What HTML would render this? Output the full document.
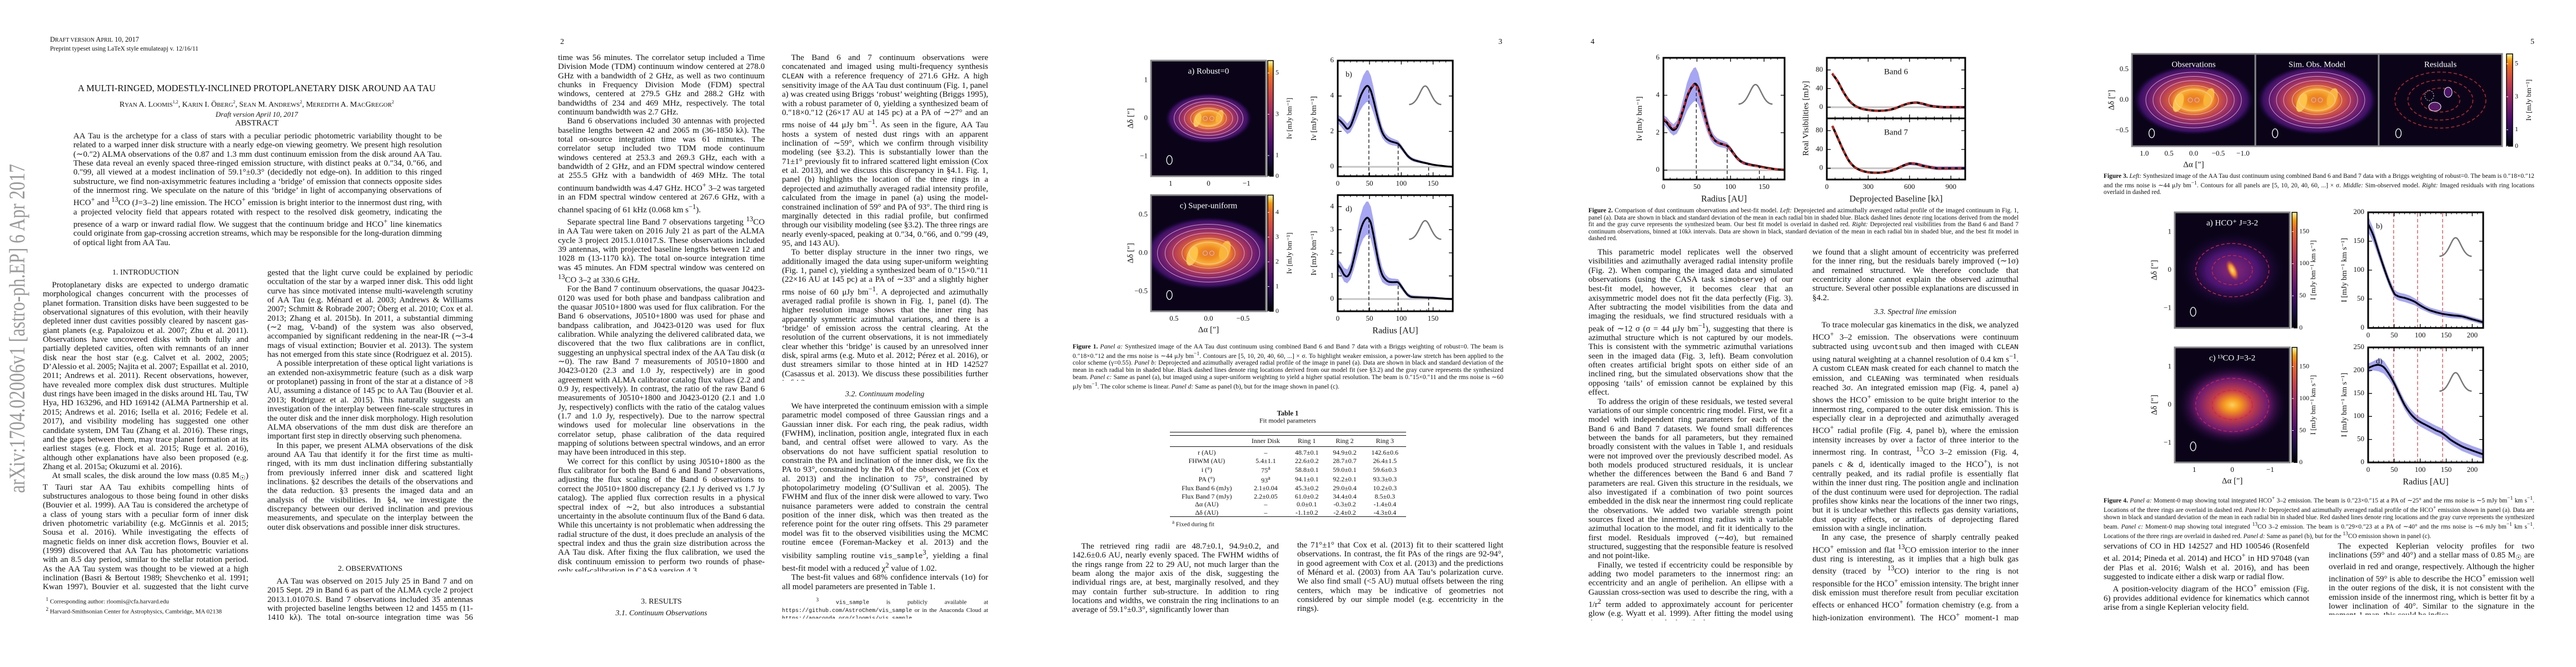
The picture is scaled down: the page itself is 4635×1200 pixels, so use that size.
<!DOCTYPE html>
<html><head><meta charset="utf-8">
<style>
html,body{margin:0;padding:0;background:#fff;}
#page{position:relative;width:4635px;height:1200px;overflow:hidden;background:#fff;font-family:"Liberation Serif",serif;color:#111;}
.col{position:absolute;text-align:justify;font-size:15px;line-height:16.35px;overflow:hidden;hyphens:auto;}
.col p{margin:0;text-indent:1.1em;}
.col p.ni{text-indent:0;}
.hd{position:absolute;font-size:14px;text-align:center;white-space:nowrap;transform:translate(-50%,-50%);}
.cap{position:absolute;text-align:justify;font-size:11.6px;line-height:12.8px;overflow:hidden;}
.fn{position:absolute;font-size:11px;line-height:13.3px;overflow:hidden;}
.pn{position:absolute;font-size:14px;top:68px;}
table.t1{position:absolute;border-collapse:collapse;font-size:12px;line-height:14.5px;}
table.t1 td{padding:0 4px;text-align:center;white-space:nowrap;}
#figs{position:absolute;left:0;top:0;}
</style></head>
<body>
<div id="page">

<!-- PAGE 1 -->
<div style="position:absolute;left:90px;top:64px;font-size:12.5px;line-height:14px;">D<span style="font-size:10px">RAFT VERSION</span> A<span style="font-size:10px">PRIL</span> 10, 2017<br><span style="font-size:11.5px">Preprint typeset using LaTeX style emulateapj v. 12/16/11</span></div>
<div class="hd" style="left:462px;top:159px;font-size:16.5px;">A MULTI-RINGED, MODESTLY-INCLINED PROTOPLANETARY DISK AROUND AA TAU</div>
<div class="hd" style="left:462px;top:188px;font-size:14px;">R<span style="font-size:11px">YAN</span> A. L<span style="font-size:11px">OOMIS</span><sup style="font-size:8px">1,2</sup>, K<span style="font-size:11px">ARIN</span> I. Ö<span style="font-size:11px">BERG</span><sup style="font-size:8px">2</sup>, S<span style="font-size:11px">EAN</span> M. A<span style="font-size:11px">NDREWS</span><sup style="font-size:8px">2</sup>, M<span style="font-size:11px">EREDITH</span> A. M<span style="font-size:11px">AC</span>G<span style="font-size:11px">REGOR</span><sup style="font-size:8px">2</sup></div>
<div class="hd" style="left:462px;top:206px;font-size:13px;font-style:italic;">Draft version April 10, 2017</div>
<div class="hd" style="left:462px;top:222px;font-size:15px;">ABSTRACT</div>
<div class="col" style="left:132px;top:237px;width:663px;height:213px;"><p class="ni">AA Tau is the archetype for a class of stars with a peculiar periodic photometric variability thought to be related to a warped inner disk structure with a nearly edge-on viewing geometry. We present high resolution (∼0.″2) ALMA observations of the 0.87 and 1.3 mm dust continuum emission from the disk around AA Tau. These data reveal an evenly spaced three-ringed emission structure, with distinct peaks at 0.″34, 0.″66, and 0.″99, all viewed at a modest inclination of 59.1°±0.3° (decidedly not edge-on). In addition to this ringed substructure, we find non-axisymmetric features including a ‘bridge’ of emission that connects opposite sides of the innermost ring. We speculate on the nature of this ‘bridge’ in light of accompanying observations of HCO<sup>+</sup> and <sup>13</sup>CO (J=3–2) line emission. The HCO<sup>+</sup> emission is bright interior to the innermost dust ring, with a projected velocity field that appears rotated with respect to the resolved disk geometry, indicating the presence of a warp or inward radial flow. We suggest that the continuum bridge and HCO<sup>+</sup> line kinematics could originate from gap-crossing accretion streams, which may be responsible for the long-duration dimming of optical light from AA Tau.</p></div>

<div class="hd" style="left:262px;top:491px;">1. INTRODUCTION</div>
<div class="col" style="left:77px;top:505px;width:370px;height:556px;"><p>Protoplanetary disks are expected to undergo dramatic morphological changes concurrent with the processes of planet formation. Transition disks have been suggested to be observational signatures of this evolution, with their heavily depleted inner dust cavities possibly cleared by nascent gas-giant planets (e.g. Papaloizou et al. 2007; Zhu et al. 2011). Observations have uncovered disks with both fully and partially depleted cavities, often with remnants of an inner disk near the host star (e.g. Calvet et al. 2002, 2005; D’Alessio et al. 2005; Najita et al. 2007; Espaillat et al. 2010, 2011; Andrews et al. 2011). Recent observations, however, have revealed more complex disk dust structures. Multiple dust rings have been imaged in the disks around HL Tau, TW Hya, HD 163296, and HD 169142 (ALMA Partnership et al. 2015; Andrews et al. 2016; Isella et al. 2016; Fedele et al. 2017), and visibility modeling has suggested one other candidate system, DM Tau (Zhang et al. 2016). These rings, and the gaps between them, may trace planet formation at its earliest stages (e.g. Flock et al. 2015; Ruge et al. 2016), although other explanations have also been proposed (e.g. Zhang et al. 2015a; Okuzumi et al. 2016).</p><p>At small scales, the disk around the low mass (0.85 M<sub>☉</sub>) T Tauri star AA Tau exhibits compelling hints of substructures analogous to those being found in other disks (Bouvier et al. 1999). AA Tau is considered the archetype of a class of young stars with a peculiar form of inner disk driven photometric variability (e.g. McGinnis et al. 2015; Sousa et al. 2016). While investigating the effects of magnetic fields on inner disk accretion flows, Bouvier et al. (1999) discovered that AA Tau has photometric variations with an 8.5 day period, similar to the stellar rotation period. As the AA Tau system was thought to be viewed at a high inclination (Basri &amp; Bertout 1989; Shevchenko et al. 1991; Kwan 1997), Bouvier et al. suggested that the light curve could be explained by periodic occultation.</p></div>
<div class="fn" style="left:77px;top:1072px;width:370px;height:44px;">&nbsp;&nbsp;<sup>1</sup> Corresponding author: rloomis@cfa.harvard.edu<br>&nbsp;&nbsp;<sup>2</sup> Harvard-Smithsonian Center for Astrophysics, Cambridge, MA 02138</div>

<div class="col" style="left:481px;top:483px;width:370px;height:507px;"><p class="ni">gested that the light curve could be explained by periodic occultation of the star by a warped inner disk. This odd light curve has since motivated intense multi-wavelength scrutiny of AA Tau (e.g. Ménard et al. 2003; Andrews &amp; Williams 2007; Schmitt &amp; Robrade 2007; Öberg et al. 2010; Cox et al. 2013; Zhang et al. 2015b). In 2011, a substantial dimming (∼2 mag, V-band) of the system was also observed, accompanied by significant reddening in the near-IR (∼3-4 mags of visual extinction; Bouvier et al. 2013). The system has not emerged from this state since (Rodriguez et al. 2015).</p><p>A possible interpretation of these optical light variations is an extended non-axisymmetric feature (such as a disk warp or protoplanet) passing in front of the star at a distance of &gt;8 AU, assuming a distance of 145 pc to AA Tau (Bouvier et al. 2013; Rodriguez et al. 2015). This naturally suggests an investigation of the interplay between fine-scale structures in the outer disk and the inner disk morphology. High resolution ALMA observations of the mm dust disk are therefore an important first step in directly observing such phenomena.</p><p>In this paper, we present ALMA observations of the disk around AA Tau that identify it for the first time as multi-ringed, with its mm dust inclination differing substantially from previously inferred inner disk and scattered light inclinations. §2 describes the details of the observations and the data reduction. §3 presents the imaged data and an analysis of the visibilities. In §4, we investigate the discrepancy between our derived inclination and previous measurements, and speculate on the interplay between the outer disk observations and possible inner disk structures.</p></div>
<div class="hd" style="left:666px;top:1024px;">2. OBSERVATIONS</div>
<div class="col" style="left:481px;top:1038px;width:370px;height:82px;"><p>AA Tau was observed on 2015 July 25 in Band 7 and on 2015 Sept. 29 in Band 6 as part of the ALMA cycle 2 project 2013.1.01070.S. Band 7 observations included 35 antennas with projected baseline lengths between 12 and 1455 m (11-1410 kλ). The total on-source integration time was 56 minutes.</p></div>

<!-- PAGE 2 -->
<div class="pn" style="left:1008px;">2</div>
<div class="col" style="left:1004px;top:96px;width:372px;height:932px;"><p class="ni">time was 56 minutes. The correlator setup included a Time Division Mode (TDM) continuum window centered at 278.0 GHz with a bandwidth of 2 GHz, as well as two continuum chunks in Frequency Division Mode (FDM) spectral windows, centered at 279.5 GHz and 288.2 GHz with bandwidths of 234 and 469 MHz, respectively. The total continuum bandwidth was 2.7 GHz.</p><p>Band 6 observations included 30 antennas with projected baseline lengths between 42 and 2065 m (36-1850 kλ). The total on-source integration time was 61 minutes. The correlator setup included two TDM mode continuum windows centered at 253.3 and 269.3 GHz, each with a bandwidth of 2 GHz, and an FDM spectral window centered at 255.5 GHz with a bandwidth of 469 MHz. The total continuum bandwidth was 4.47 GHz. HCO<sup>+</sup> 3–2 was targeted in an FDM spectral window centered at 267.6 GHz, with a channel spacing of 61 kHz (0.068 km s<sup>−1</sup>).</p><p>Separate spectral line Band 7 observations targeting <sup>13</sup>CO in AA Tau were taken on 2016 July 21 as part of the ALMA cycle 3 project 2015.1.01017.S. These observations included 39 antennas, with projected baseline lengths between 12 and 1028 m (13-1170 kλ). The total on-source integration time was 45 minutes. An FDM spectral window was centered on <sup>13</sup>CO 3–2 at 330.6 GHz.</p><p>For the Band 7 continuum observations, the quasar J0423-0120 was used for both phase and bandpass calibration and the quasar J0510+1800 was used for flux calibration. For the Band 6 observations, J0510+1800 was used for phase and bandpass calibration, and J0423-0120 was used for flux calibration. While analyzing the delivered calibrated data, we discovered that the two flux calibrations are in conflict, suggesting an unphysical spectral index of the AA Tau disk (α ∼0). The raw Band 7 measurements of J0510+1800 and J0423-0120 (2.3 and 1.0 Jy, respectively) are in good agreement with ALMA calibrator catalog flux values (2.2 and 0.9 Jy, respectively). In contrast, the ratio of the raw Band 6 measurements of J0510+1800 and J0423-0120 (2.1 and 1.0 Jy, respectively) conflicts with the ratio of the catalog values (1.7 and 1.0 Jy, respectively). Due to the narrow spectral windows used for molecular line observations in the correlator setup, phase calibration of the data required mapping of solutions between spectral windows, and an error may have been introduced in this step.</p><p>We correct for this conflict by using J0510+1800 as the flux calibrator for both the Band 6 and Band 7 observations, adjusting the flux scaling of the Band 6 observations to correct the J0510+1800 discrepancy (2.1 Jy derived vs 1.7 Jy catalog). The applied flux correction results in a physical spectral index of ∼2, but also introduces a substantial uncertainty in the absolute continuum flux of the Band 6 data. While this uncertainty is not problematic when addressing the radial structure of the dust, it does preclude an analysis of the spectral index and thus the grain size distribution across the AA Tau disk. After fixing the flux calibration, we used the disk continuum emission to perform two rounds of phase-only self-calibration in CASA version 4.3.</p></div>
<div class="hd" style="left:1190px;top:1083px;">3. RESULTS</div>
<div class="hd" style="left:1190px;top:1104px;font-style:italic;">3.1. Continuum Observations</div>

<div class="col" style="left:1407px;top:96px;width:371px;height:589px;"><p>The Band 6 and 7 continuum observations were concatenated and imaged using multi-frequency synthesis <span style="font-family:'Liberation Mono',monospace;font-size:13px">CLEAN</span> with a reference frequency of 271.6 GHz. A high sensitivity image of the AA Tau dust continuum (Fig. 1, panel a) was created using Briggs ‘robust’ weighting (Briggs 1995), with a robust parameter of 0, yielding a synthesized beam of 0.″18×0.″12 (26×17 AU at 145 pc) at a PA of ∼27° and an rms noise of 44 μJy bm<sup>−1</sup>. As seen in the figure, AA Tau hosts a system of nested dust rings with an apparent inclination of ∼59°, which we confirm through visibility modeling (see §3.2). This is substantially lower than the 71±1° previously fit to infrared scattered light emission (Cox et al. 2013), and we discuss this discrepancy in §4.1. Fig. 1, panel (b) highlights the location of the three rings in a deprojected and azimuthally averaged radial intensity profile, calculated from the image in panel (a) using the model-constrained inclination of 59° and PA of 93°. The third ring is marginally detected in this radial profile, but confirmed through our visibility modeling (see §3.2). The three rings are nearly evenly-spaced, peaking at 0.″34, 0.″66, and 0.″99 (49, 95, and 143 AU).</p><p>To better display structure in the inner two rings, we additionally imaged the data using super-uniform weighting (Fig. 1, panel c), yielding a synthesized beam of 0.″15×0.″11 (22×16 AU at 145 pc) at a PA of ∼33° and a slightly higher rms noise of 60 μJy bm<sup>−1</sup>. A deprojected and azimuthally averaged radial profile is shown in Fig. 1, panel (d). The higher resolution image shows that the inner ring has apparently symmetric azimuthal variations, and there is a ‘bridge’ of emission across the central clearing. At the resolution of the current observations, it is not immediately clear whether this ‘bridge’ is caused by an unresolved inner disk, spiral arms (e.g. Muto et al. 2012; Pérez et al. 2016), or dust streamers similar to those hinted at in HD 142527 (Casassus et al. 2013). We discuss these possibilities further in §4.2.</p></div>
<div class="hd" style="left:1592px;top:710px;font-style:italic;">3.2. Continuum modeling</div>
<div class="col" style="left:1407px;top:723px;width:371px;height:343px;"><p>We have interpreted the continuum emission with a simple parametric model composed of three Gaussian rings and a Gaussian inner disk. For each ring, the peak radius, width (FWHM), inclination, position angle, integrated flux in each band, and central offset were allowed to vary. As the observations do not have sufficient spatial resolution to constrain the PA and inclination of the inner disk, we fix the PA to 93°, constrained by the PA of the observed jet (Cox et al. 2013) and the inclination to 75°, constrained by photopolarimetry modeling (O’Sullivan et al. 2005). The FWHM and flux of the inner disk were allowed to vary. Two nuisance parameters were added to constrain the central position of the inner disk, which was then treated as the reference point for the outer ring offsets. This 29 parameter model was fit to the observed visibilities using the MCMC routine <span style="font-family:'Liberation Mono',monospace;font-size:13px">emcee</span> (Foreman-Mackey et al. 2013) and the visibility sampling routine <span style="font-family:'Liberation Mono',monospace;font-size:13px">vis_sample</span><sup>3</sup>, yielding a final best-fit model with a reduced χ<sup>2</sup> value of 1.02.</p><p>The best-fit values and 68% confidence intervals (1σ) for all model parameters are presented in Table 1.</p></div>
<div class="fn" style="left:1407px;top:1073px;width:371px;height:40px;text-align:justify;">&nbsp;&nbsp;<sup>3</sup> <span style="font-family:'Liberation Mono',monospace;font-size:10px">vis_sample</span> is publicly available at <span style="font-family:'Liberation Mono',monospace;font-size:10px">https://github.com/AstroChem/vis_sample</span> or in the Anaconda Cloud at <span style="font-family:'Liberation Mono',monospace;font-size:10px">https://anaconda.org/rloomis/vis_sample</span></div>

<!-- PAGE 3 -->
<div class="pn" style="left:2696px;">3</div>
<div class="cap" style="left:1930px;top:618px;width:775px;height:92px;"><b>Figure 1.</b> <i>Panel a:</i> Synthesized image of the AA Tau dust continuum using combined Band 6 and Band 7 data with a Briggs weighting of robust=0. The beam is 0.″18×0.″12 and the rms noise is ∼44 μJy bm<sup>−1</sup>. Contours are [5, 10, 20, 40, 60, ...] × σ. To highlight weaker emission, a power-law stretch has been applied to the color scheme (γ=0.55). <i>Panel b:</i> Deprojected and azimuthally averaged radial profile of the image in panel (a). Data are shown in black and standard deviation of the mean in each radial bin in shaded blue. Black dashed lines denote ring locations derived from our model fit (see §3.2) and the gray curve represents the synthesized beam. <i>Panel c:</i> Same as panel (a), but imaged using a super-uniform weighting to yield a higher spatial resolution. The beam is 0.″15×0.″11 and the rms noise is ∼60 μJy bm<sup>−1</sup>. The color scheme is linear. <i>Panel d:</i> Same as panel (b), but for the image shown in panel (c).</div>
<div class="hd" style="left:2317px;top:744px;font-size:12.5px;font-weight:bold;">Table 1</div>
<div class="hd" style="left:2317px;top:757px;font-size:12px;">Fit model parameters</div>
<table class="t1" style="left:2105px;top:777px;width:425px;">
<tr><td colspan="5" style="border-top:1.5px solid #111;border-bottom:1.5px solid #111;height:5px;padding:0"></td></tr>
<tr style="height:20px"><td></td><td>Inner Disk</td><td>Ring 1</td><td>Ring 2</td><td>Ring 3</td></tr>
<tr><td colspan="5" style="border-top:1.5px solid #111;height:3px;padding:0"></td></tr>
<tr><td>r (AU)</td><td>–</td><td>48.7±0.1</td><td>94.9±0.2</td><td>142.6±0.6</td></tr>
<tr><td>FHWM (AU)</td><td>5.4±1.1</td><td>22.6±0.2</td><td>28.7±0.7</td><td>26.4±1.5</td></tr>
<tr><td>i (°)</td><td>75<sup>a</sup></td><td>58.8±0.1</td><td>59.0±0.1</td><td>59.6±0.3</td></tr>
<tr><td>PA (°)</td><td>93<sup>a</sup></td><td>94.1±0.1</td><td>92.2±0.1</td><td>93.3±0.3</td></tr>
<tr><td>Flux Band 6 (mJy)</td><td>2.1±0.04</td><td>45.3±0.2</td><td>29.0±0.4</td><td>10.2±0.3</td></tr>
<tr><td>Flux Band 7 (mJy)</td><td>2.2±0.05</td><td>61.0±0.2</td><td>34.4±0.4</td><td>8.5±0.3</td></tr>
<tr><td>Δα (AU)</td><td>–</td><td>0.0±0.1</td><td>-0.3±0.2</td><td>-1.4±0.4</td></tr>
<tr><td>Δδ (AU)</td><td>–</td><td>-1.1±0.2</td><td>-2.4±0.2</td><td>-4.3±0.4</td></tr>
<tr><td colspan="5" style="border-top:1.5px solid #111;height:2px;padding:0"></td></tr>
<tr><td colspan="5" style="text-align:left;font-size:11px"><sup>a</sup> Fixed during fit</td></tr>
</table>
<div class="col" style="left:1929px;top:975px;width:372px;height:131px;"><p>The retrieved ring radii are 48.7±0.1, 94.9±0.2, and 142.6±0.6 AU, nearly evenly spaced. The FWHM widths of the rings range from 22 to 29 AU, not much larger than the beam along the major axis of the disk, suggesting the individual rings are, at best, marginally resolved, and they may contain further sub-structure. In addition to ring locations and widths, we constrain the ring inclinations to an average of 59.1°±0.3°, significantly lower than</p></div>
<div class="col" style="left:2334px;top:973px;width:371px;height:131px;"><p class="ni">the 71°±1° that Cox et al. (2013) fit to their scattered light observations. In contrast, the fit PAs of the rings are 92-94°, in good agreement with Cox et al. (2013) and the predictions of Ménard et al. (2003) from AA Tau’s polarization curve. We also find small (&lt;5 AU) mutual offsets between the ring centers, which may be indicative of geometries not considered by our simple model (e.g. eccentricity in the rings).</p></div>

<!-- PAGE 4 -->
<div class="pn" style="left:2862px;">4</div>
<div class="cap" style="left:2858px;top:373px;width:774px;height:66px;font-size:11.4px;line-height:12.6px;"><b>Figure 2.</b> Comparison of dust continuum observations and best-fit model. <i>Left:</i> Deprojected and azimuthally averaged radial profile of the imaged continuum in Fig. 1, panel (a). Data are shown in black and standard deviation of the mean in each radial bin in shaded blue. Black dashed lines denote ring locations derived from the model fit and the gray curve represents the synthesized beam. Our best fit model is overlaid in dashed red. <i>Right:</i> Deprojected real visibilities from the Band 6 and Band 7 continuum observations, binned at 10kλ intervals. Data are shown in black, standard deviation of the mean in each radial bin in shaded blue, and the best fit model in dashed red.</div>
<div class="col" style="left:2858px;top:446px;width:368px;height:670px;"><p>This parametric model replicates well the observed visibilities and azimuthally averaged radial intensity profile (Fig. 2). When comparing the imaged data and simulated observations (using the CASA task <span style="font-family:'Liberation Mono',monospace;font-size:13px">simobserve</span>) of our best-fit model, however, it becomes clear that an axisymmetric model does not fit the data perfectly (Fig. 3). After subtracting the model visibilities from the data and imaging the residuals, we find structured residuals with a peak of ∼12 σ (σ = 44 μJy bm<sup>−1</sup>), suggesting that there is azimuthal structure which is not captured by our models. This is consistent with the symmetric azimuthal variations seen in the imaged data (Fig. 3, left). Beam convolution often creates artificial bright spots on either side of an inclined ring, but the simulated observations show that the opposing ‘tails’ of emission cannot be explained by this effect.</p><p>To address the origin of these residuals, we tested several variations of our simple concentric ring model. First, we fit a model with independent ring parameters for each of the Band 6 and Band 7 datasets. We found small differences between the bands for all parameters, but they remained broadly consistent with the values in Table 1, and residuals were not improved over the previously described model. As both models produced structured residuals, it is unclear whether the differences between the Band 6 and Band 7 parameters are real. Given this structure in the residuals, we also investigated if a combination of two point sources embedded in the disk near the innermost ring could replicate the observations. We added two variable strength point sources fixed at the innermost ring radius with a variable azimuthal location to the model, and fit it identically to the first model. Residuals improved (∼4σ), but remained structured, suggesting that the responsible feature is resolved and not point-like.</p><p>Finally, we tested if eccentricity could be responsible by adding two model parameters to the innermost ring: an eccentricity and an angle of perihelion. An ellipse with a Gaussian cross-section was used to describe the ring, with a 1/r<sup>2</sup> term added to approximately account for pericenter glow (e.g. Wyatt et al. 1999). After fitting the model using the procedure previously described,</p></div>
<div class="col" style="left:3261px;top:446px;width:371px;height:98px;"><p class="ni">we found that a slight amount of eccentricity was preferred for the inner ring, but the residuals barely improved (∼1σ) and remained structured. We therefore conclude that eccentricity alone cannot explain the observed azimuthal structure. Several other possible explanations are discussed in §4.2.</p></div>
<div class="hd" style="left:3446px;top:562px;font-style:italic;">3.3. Spectral line emission</div>
<div class="col" style="left:3261px;top:577px;width:371px;height:540px;"><p>To trace molecular gas kinematics in the disk, we analyzed HCO<sup>+</sup> 3–2 emission. The observations were continuum subtracted using <span style="font-family:'Liberation Mono',monospace;font-size:13px">uvcontsub</span> and then imaged with <span style="font-family:'Liberation Mono',monospace;font-size:13px">CLEAN</span> using natural weighting at a channel resolution of 0.4 km s<sup>−1</sup>. A custom <span style="font-family:'Liberation Mono',monospace;font-size:13px">CLEAN</span> mask created for each channel to match the emission, and <span style="font-family:'Liberation Mono',monospace;font-size:13px">CLEAN</span>ing was terminated when residuals reached 3σ. An integrated emission map (Fig. 4, panel a) shows the HCO<sup>+</sup> emission to be quite bright interior to the innermost ring, compared to the outer disk emission. This is especially clear in a deprojected and azimuthally averaged HCO<sup>+</sup> radial profile (Fig. 4, panel b), where the emission intensity increases by over a factor of three interior to the innermost ring. In contrast, <sup>13</sup>CO 3–2 emission (Fig. 4, panels c &amp; d, identically imaged to the HCO<sup>+</sup>), is not centrally peaked, and its radial profile is essentially flat within the inner dust ring. The position angle and inclination of the dust continuum were used for deprojection. The radial profiles show kinks near the locations of the inner two rings, but it is unclear whether this reflects gas density variations, dust opacity effects, or artifacts of deprojecting flared emission with a single inclination.</p><p>In any case, the presence of sharply centrally peaked HCO<sup>+</sup> emission and flat <sup>13</sup>CO emission interior to the inner dust ring is interesting, as it implies that a high bulk gas density (traced by <sup>13</sup>CO) interior to the ring is not responsible for the HCO<sup>+</sup> emission intensity. The bright inner disk emission must therefore result from peculiar excitation effects or enhanced HCO<sup>+</sup> formation chemistry (e.g. from a high-ionization environment). The HCO<sup>+</sup> moment-1 map (Fig. 5) is similarly intriguing, showing a twist interior to the inner dust ring, with the emission misaligned by ∼10° with respect to the continuum orientation. This feature is similar to previous ob-</p></div>

<!-- PAGE 5 -->
<div class="pn" style="left:4553px;">5</div>
<div class="cap" style="left:3785px;top:311px;width:775px;height:40px;font-size:11.4px;line-height:12.8px;"><b>Figure 3.</b> <i>Left:</i> Synthesized image of the AA Tau dust continuum using combined Band 6 and Band 7 data with a Briggs weighting of robust=0. The beam is 0.″18×0.″12 and the rms noise is ∼44 μJy bm<sup>−1</sup>. Contours for all panels are [5, 10, 20, 40, 60, ...] × σ. <i>Middle:</i> Sim-observed model. <i>Right:</i> Imaged residuals with ring locations overlaid in dashed red.</div>
<div class="cap" style="left:3785px;top:891px;width:775px;height:80px;font-size:11.4px;line-height:13.2px;"><b>Figure 4.</b> <i>Panel a:</i> Moment-0 map showing total integrated HCO<sup>+</sup> 3–2 emission. The beam is 0.″23×0.″15 at a PA of ∼25° and the rms noise is ∼5 mJy bm<sup>−1</sup> km s<sup>−1</sup>. Locations of the three rings are overlaid in dashed red. <i>Panel b:</i> Deprojected and azimuthally averaged radial profile of the HCO<sup>+</sup> emission shown in panel (a). Data are shown in black and standard deviation of the mean in each radial bin in shaded blue. Red dashed lines denote ring locations and the gray curve represents the synthesized beam. <i>Panel c:</i> Moment-0 map showing total integrated <sup>13</sup>CO 3–2 emission. The beam is 0.″29×0.″23 at a PA of ∼40° and the rms noise is ∼6 mJy bm<sup>−1</sup> km s<sup>−1</sup>. Locations of the three rings are overlaid in dashed red. <i>Panel d:</i> Same as panel (b), but for the <sup>13</sup>CO emission shown in panel (c).</div>
<div class="col" style="left:3785px;top:975px;width:370px;height:131px;"><p class="ni">servations of CO in HD 142527 and HD 100546 (Rosenfeld et al. 2014; Pineda et al. 2014) and HCO<sup>+</sup> in HD 97048 (van der Plas et al. 2016; Walsh et al. 2016), and has been suggested to indicate either a disk warp or radial flow.</p><p>A position-velocity diagram of the HCO<sup>+</sup> emission (Fig. 6) provides additional evidence for kinematics which cannot arise from a single Keplerian velocity field.</p></div>
<div class="col" style="left:4190px;top:975px;width:370px;height:131px;"><p>The expected Keplerian velocity profiles for two inclinations (59° and 40°) and a stellar mass of 0.85 M<sub>☉</sub> are overlaid in red and orange, respectively. Although the higher inclination of 59° is able to describe the HCO<sup>+</sup> emission well in the outer regions of the disk, it is not consistent with the emission inside of the innermost ring, which is better fit by a lower inclination of 40°. Similar to the signature in the moment-1 map, this could be indica-</p></div>

<svg id="figs" width="4635" height="1200" xmlns="http://www.w3.org/2000/svg" font-family="Liberation Serif, serif">
<defs id="defs">
<linearGradient id="inferno" x1="0" y1="1" x2="0" y2="0">
<stop offset="0" stop-color="#000004"/><stop offset="0.14" stop-color="#1b0c41"/><stop offset="0.29" stop-color="#4a0c6b"/><stop offset="0.43" stop-color="#781c6d"/><stop offset="0.57" stop-color="#a52c60"/><stop offset="0.71" stop-color="#cf4446"/><stop offset="0.86" stop-color="#ed6925"/><stop offset="0.93" stop-color="#fb9b06"/><stop offset="1" stop-color="#fcffa4"/>
</linearGradient>
<radialGradient id="diskGrad"><stop offset="0" stop-color="#f3862a"/><stop offset="0.35" stop-color="#e36a2c"/><stop offset="0.55" stop-color="#b23a5a"/><stop offset="0.75" stop-color="#6a1c70"/><stop offset="0.9" stop-color="#3a1063"/><stop offset="1" stop-color="#1a0838" stop-opacity="0"/></radialGradient>
<radialGradient id="ringGrad"><stop offset="0" stop-color="#e8742c"/><stop offset="0.35" stop-color="#f08a20"/><stop offset="0.7" stop-color="#f9b43a"/><stop offset="1" stop-color="#f07a25" stop-opacity="0"/></radialGradient>
<radialGradient id="glowPurple"><stop offset="0" stop-color="#8a2a78"/><stop offset="0.5" stop-color="#4a1470"/><stop offset="1" stop-color="#14062e" stop-opacity="0"/></radialGradient>
<radialGradient id="glowCO"><stop offset="0" stop-color="#fcd05a"/><stop offset="0.15" stop-color="#f59a1e"/><stop offset="0.35" stop-color="#c8404a"/><stop offset="0.65" stop-color="#6a1a70"/><stop offset="1" stop-color="#14062e" stop-opacity="0"/></radialGradient>
<radialGradient id="hcoCore"><stop offset="0" stop-color="#fce27a"/><stop offset="0.5" stop-color="#f39022"/><stop offset="1" stop-color="#c8404a" stop-opacity="0"/></radialGradient>
</defs>
<text transform="translate(44,887) rotate(-90)" font-size="40" fill="#9a9a9a" textLength="592" lengthAdjust="spacingAndGlyphs">arXiv:1704.02006v1  [astro-ph.EP]  6 Apr 2017</text>
</svg>
</div>

<script>
// ---------- DATA ----------
const ringRadii = [49, 95, 143];

const fig1bRadius = [0, 5, 10, 15, 20, 25, 30, 35, 40, 45, 48, 52, 56, 60, 65, 70, 75, 80, 85, 90, 95, 100, 105, 110, 115, 120, 130, 140, 150, 160, 170, 180];
const fig1bIntensity = [2.7, 2.55, 2.35, 2.15, 2.3, 2.75, 3.3, 3.9, 4.3, 4.55, 4.55, 4.3, 3.8, 3.2, 2.5, 1.95, 1.65, 1.5, 1.42, 1.37, 1.3, 1.1, 0.85, 0.62, 0.47, 0.38, 0.28, 0.2, 0.12, 0.07, 0.03, 0.0];
const fig1bError = [0.25, 0.28, 0.3, 0.3, 0.35, 0.45, 0.6, 0.75, 0.85, 0.9, 0.9, 0.85, 0.75, 0.6, 0.45, 0.32, 0.25, 0.22, 0.2, 0.18, 0.17, 0.15, 0.13, 0.12, 0.1, 0.1, 0.08, 0.07, 0.06, 0.05, 0.05, 0.05];
const fig1bYTicks = [0, 2, 4, 6];

const fig1dRadius = [0, 5, 10, 15, 20, 25, 30, 35, 40, 45, 48, 52, 56, 60, 65, 70, 75, 80, 85, 90, 95, 100, 105, 110, 115, 120, 130, 140, 150, 160, 170, 180];
const fig1dIntensity = [1.5, 1.3, 1.05, 0.98, 1.2, 1.7, 2.3, 2.9, 3.3, 3.5, 3.5, 3.3, 2.8, 2.2, 1.5, 1.05, 0.85, 0.75, 0.73, 0.73, 0.72, 0.55, 0.35, 0.18, 0.1, 0.08, 0.07, 0.06, 0.05, 0.03, 0.01, 0.0];
const fig1dError = [0.25, 0.28, 0.3, 0.3, 0.35, 0.45, 0.55, 0.65, 0.7, 0.72, 0.72, 0.7, 0.65, 0.55, 0.45, 0.32, 0.22, 0.18, 0.16, 0.15, 0.14, 0.12, 0.1, 0.09, 0.08, 0.08, 0.07, 0.06, 0.06, 0.05, 0.05, 0.05];
const fig1dYTicks = [0, 1, 2, 3, 4];
const radiusTicks = [0, 50, 100, 150];

const fig2Radius = [0, 5, 10, 15, 20, 25, 30, 35, 40, 45, 48, 52, 56, 60, 65, 70, 75, 80, 85, 90, 95, 100, 105, 110, 115, 120, 130, 140, 150, 160, 170, 180];
const fig2Intensity = [2.7, 2.55, 2.3, 2.15, 2.3, 2.75, 3.3, 3.9, 4.3, 4.55, 4.6, 4.35, 3.85, 3.2, 2.5, 1.95, 1.65, 1.5, 1.42, 1.37, 1.3, 1.12, 0.87, 0.64, 0.48, 0.38, 0.28, 0.22, 0.15, 0.09, 0.04, 0.02];
const fig2Error = [0.25, 0.28, 0.3, 0.3, 0.35, 0.45, 0.6, 0.75, 0.85, 0.9, 0.9, 0.85, 0.75, 0.6, 0.45, 0.32, 0.25, 0.22, 0.2, 0.18, 0.17, 0.15, 0.13, 0.12, 0.1, 0.1, 0.08, 0.07, 0.06, 0.05, 0.05, 0.05];
const fig2Model = [2.75, 2.6, 2.4, 2.25, 2.35, 2.8, 3.35, 3.95, 4.35, 4.55, 4.55, 4.3, 3.8, 3.15, 2.45, 1.9, 1.62, 1.5, 1.43, 1.38, 1.3, 1.1, 0.86, 0.63, 0.47, 0.37, 0.27, 0.2, 0.13, 0.08, 0.04, 0.01];

const visBaseline = [40, 80, 120, 160, 200, 250, 300, 350, 400, 450, 500, 550, 600, 650, 700, 750, 800, 850, 900, 950, 1000];
const visBand6Real = [72, 55, 33, 15, 4, -3, -6, -7.5, -7.5, -6, -2, 4, 8.5, 10, 7, 3, 1, 0, 0, 0, 0];
const visBand6Err = [2, 2, 2, 2, 2, 2, 2, 2, 2, 2, 2, 2, 2.5, 2.5, 3, 3, 3, 3, 3, 3, 3];
const visBand6Model = [73, 55, 33, 15, 4, -3, -6, -7.5, -7.5, -6, -2, 4, 8.5, 10, 7, 3, 1, 0, 0, 0, 0];
const visBand7Real = [90, 64, 38, 16, 3, -5, -8.5, -9.5, -9, -6.5, -2, 5, 10, 9, 5, 2, 0, 0, 0, 0, 0];
const visBand7Err = [2, 2, 2, 2, 2, 2, 2, 2, 2, 2.5, 2.5, 3, 3.5, 3.5, 4, 4, 4, 4, 4, 4, 4];
const visBand7Model = [90, 64, 38, 16, 3, -5, -8.5, -9.5, -9, -6.5, -2, 5, 10, 9, 5, 2, 0, 0, 0, 0, 0];
const visYTicks = [0, 40, 80];
const visXTicks = [0, 300, 600, 900];

const hcoRadius = [0, 10, 20, 30, 40, 50, 55, 60, 70, 80, 90, 100, 110, 120, 140, 160, 180, 200, 220];
const hcoIntensity = [180, 160, 132, 105, 80, 60, 56, 54, 52, 49, 45, 39, 34, 30, 25, 22, 20, 15, 10];
const hcoError = [14, 12, 10, 9, 8, 7, 7, 7, 7, 7, 6, 6, 5, 5, 5, 5, 4, 4, 4];
const hcoYTicks = [0, 50, 100, 150, 200];

const coRadius = [0, 10, 20, 30, 40, 50, 60, 70, 80, 90, 100, 110, 120, 130, 140, 150, 160, 180, 200, 220];
const coIntensity = [205, 210, 212, 207, 192, 172, 148, 125, 108, 96, 88, 82, 76, 70, 65, 57, 48, 35, 26, 18];
const coError = [10, 10, 14, 14, 12, 10, 10, 10, 10, 10, 10, 10, 10, 10, 10, 10, 10, 10, 10, 10];
const coYTicks = [0, 50, 100, 150, 200, 250];
const wideRadiusTicks = [0, 50, 100, 150, 200];

const fig1aAxisTicks = [1, 0, -1];
const fig1cAxisTicks = [0.5, 0.0, -0.5];
const fig1aColorTicks = [0, 1, 3, 5];
const fig1cColorTicks = [0, 1, 2, 3, 4];
const fig3AxisTicks = [0.5, 0.0, -0.5];
const fig3XTicks = [1.0, 0.5, 0.0, -0.5, -1.0];
const fig3ColorTicks = [0, 1, 3, 5];
const hcoColorTicks = [0, 50, 100, 150];

// ---------- HELPERS ----------
const NS = 'http://www.w3.org/2000/svg';
const svg = document.getElementById('figs');
const defs = document.getElementById('defs');
function mk(tag, attrs, parent) {
  const e = document.createElementNS(NS, tag);
  for (const k in attrs) e.setAttribute(k, attrs[k]);
  parent.appendChild(e);
  return e;
}
function label(parent, x, y, s, size, anchor, rot, name) {
  const t = mk('text', {x: x, y: y, 'font-size': size, 'text-anchor': anchor || 'middle', 'dominant-baseline': 'middle', fill: '#111'}, parent);
  if (rot) t.setAttribute('transform', `rotate(${rot} ${x} ${y})`);
  t.textContent = s;
  
  
  return t;
}
function smoothPath(pts) {
  let d = `M${pts[0][0]},${pts[0][1]}`;
  for (let i = 0; i < pts.length - 1; i++) {
    const p0 = pts[Math.max(0, i - 1)], p1 = pts[i], p2 = pts[i + 1], p3 = pts[Math.min(pts.length - 1, i + 2)];
    const c1x = p1[0] + (p2[0] - p0[0]) / 6, c1y = p1[1] + (p2[1] - p0[1]) / 6;
    const c2x = p2[0] - (p3[0] - p1[0]) / 6, c2y = p2[1] - (p3[1] - p1[1]) / 6;
    d += ` C${c1x},${c1y} ${c2x},${c2y} ${p2[0]},${p2[1]}`;
  }
  return d;
}
function interp(xs, ys, v) {
  for (let i = 0; i < xs.length - 1; i++) if (v >= xs[i] && v <= xs[i + 1]) return ys[i] + (ys[i + 1] - ys[i]) * (v - xs[i]) / (xs[i + 1] - xs[i]);
  return ys[ys.length - 1];
}

function linePlot(p) {
  const g = mk('g', {}, svg);
  
  
  const sx = v => p.x + (v - p.xmin) / (p.xmax - p.xmin) * p.w;
  const sy = v => p.y + p.h - (v - p.ymin) / (p.ymax - p.ymin) * p.h;
  const cp = mk('clipPath', {id: 'clip-' + p.name}, defs);
  mk('rect', {x: p.x, y: p.y, width: p.w, height: p.h}, cp);
  const inner = mk('g', {'clip-path': `url(#clip-${p.name})`}, g);
  if (p.err) {
    const pts = [];
    p.xs.forEach((v, i) => pts.push(sx(v) + ',' + sy(p.ys[i] + p.err[i])));
    for (let i = p.xs.length - 1; i >= 0; i--) pts.push(sx(p.xs[i]) + ',' + sy(p.ys[i] - p.err[i]));
    const band = mk('polygon', {points: pts.join(' '), fill: '#a6a6f5'}, inner);
    
    
  }
  const zl = mk('line', {x1: p.x, x2: p.x + p.w, y1: sy(0), y2: sy(0), stroke: '#c4c4c4', 'stroke-width': 3}, inner);
  
  
  (p.rings || []).forEach(r => {
    const top = p.ringColor ? p.y : sy(interp(p.xs, p.ys, r));
    const vl = mk('line', {x1: sx(r), x2: sx(r), y1: p.y + p.h, y2: top, stroke: p.ringColor || '#222', 'stroke-width': 1.4, 'stroke-dasharray': '6 4'}, inner);
    
    
  });
  const dpts = p.xs.map((v, i) => [sx(v), sy(p.ys[i])]);
  const dl = mk('path', {d: smoothPath(dpts), fill: 'none', stroke: '#000', 'stroke-width': p.model ? 4 : 3.2, 'stroke-linejoin': 'round'}, inner);
  
  
  if (p.model) {
    const mpts = p.xs.map((v, i) => [sx(v), sy(p.model[i])]);
    const ml = mk('path', {d: smoothPath(mpts), fill: 'none', stroke: '#e2231a', 'stroke-width': 3, 'stroke-dasharray': '7 5'}, inner);
    
    
  }
  if (p.beam) {
    const bx = p.x + p.w * 0.62, by = p.y + p.h * 0.38, bw = p.w * 0.28, bh = p.h * 0.16;
    const bp = mk('path', {d: `M${bx},${by} C${bx + bw * 0.28},${by} ${bx + bw * 0.36},${by - bh} ${bx + bw * 0.5},${by - bh} C${bx + bw * 0.64},${by - bh} ${bx + bw * 0.72},${by} ${bx + bw},${by}`, fill: 'none', stroke: '#777', 'stroke-width': 2.5}, g);
    
    
  }
  const box = mk('rect', {x: p.x, y: p.y, width: p.w, height: p.h, fill: 'none', stroke: '#000', 'stroke-width': p.thinTop ? 2.5 : 3}, g);
  
  
  p.xticks.forEach((v, i) => {
    const tk = mk('path', {d: `M${sx(v)},${p.y + p.h} v-7 M${sx(v)},${p.y} v7`, stroke: '#000', 'stroke-width': 1.3}, g);
    
    
    const step = p.xticks.length > 1 ? (p.xticks[1] - p.xticks[0]) / 5 : 10;
    for (let k = 1; k < 5; k++) {
      const mv = v + k * step;
      if (mv < p.xmax) {
        const mt = mk('path', {d: `M${sx(mv)},${p.y + p.h} v-3.5 M${sx(mv)},${p.y} v3.5`, stroke: '#000', 'stroke-width': 1}, g);
        
        
      }
    }
    if (p.xlabels !== false) label(g, sx(v), p.y + p.h + 14, String(v), 13, 'middle', 0, 'x-tick-label');
  });
  p.yticks.forEach(v => {
    const tk = mk('path', {d: `M${p.x},${sy(v)} h7 M${p.x + p.w},${sy(v)} h-7`, stroke: '#000', 'stroke-width': 1.3}, g);
    
    
    label(g, p.x - 7, sy(v), String(v), 13, 'end', 0, 'y-tick-label');
  });
  if (p.xtitle) label(g, p.x + p.w / 2, p.y + p.h + 36, p.xtitle, 16, 'middle', 0, 'x-axis-title');
  if (p.ytitle) label(g, p.x - 42, p.y + p.h / 2, p.ytitle, 14, 'middle', -90, 'y-axis-title');
  if (p.panel) label(g, p.x + 20, p.y + 26, p.panel, 14, 'middle', 0, 'panel-label');
  if (p.inlabel) label(g, p.x + p.w * 0.5, p.y + 26, p.inlabel, 15, 'middle', 0, 'band-label');
}

function colorbar(x, y, w, h, ticks, vmax, title, name) {
  const g = mk('g', {}, svg);
  
  
  mk('rect', {x: x, y: y, width: w, height: h, fill: 'url(#inferno)', stroke: '#000', 'stroke-width': 1.5}, g);
  ticks.forEach(v => {
    const ty = y + h - v / vmax * h;
    mk('line', {x1: x, x2: x + 3, y1: ty, y2: ty, stroke: '#fff', 'stroke-width': 1}, g);
    label(g, x + w + 4, ty, String(v), 12, 'start', 0, 'colorbar-tick-label');
  });
  if (title) label(g, x + w + 30, y + h / 2, title, 13, 'middle', -90, 'colorbar-title');
}

function diskImage(c) {
  const g = mk('g', {}, svg);
  
  
  mk('clipPath', {id: 'ic-' + c.name}, defs).appendChild(Object.assign(document.createElementNS(NS, 'rect'), {}));
  const cpr = defs.lastChild.firstChild;
  cpr.setAttribute('x', c.x); cpr.setAttribute('y', c.y); cpr.setAttribute('width', c.w); cpr.setAttribute('height', c.h);
  const ig = mk('g', {'clip-path': `url(#ic-${c.name})`}, g);
  mk('rect', {x: c.x, y: c.y, width: c.w, height: c.h, fill: '#0b0419'}, ig);
  const cx = c.x + c.w / 2, cy = c.y + c.h / 2;
  if (c.kind === 'disk') {
    mk('ellipse', {cx: cx, cy: cy, rx: c.rx * 1.25, ry: c.ry * 1.25, fill: 'url(#diskGrad)'}, ig);
    mk('ellipse', {cx: cx, cy: cy, rx: c.rx * 0.5, ry: c.ry * 0.55, fill: 'url(#ringGrad)'}, ig);
    mk('ellipse', {cx: cx - c.rx * 0.3, cy: cy + c.ry * 0.1, rx: c.rx * 0.1, ry: c.ry * 0.35, fill: '#fcc44a', transform: `rotate(20 ${cx - c.rx * 0.3} ${cy})`}, ig);
    mk('ellipse', {cx: cx + c.rx * 0.3, cy: cy - c.ry * 0.1, rx: c.rx * 0.1, ry: c.ry * 0.35, fill: '#f9b43a', transform: `rotate(20 ${cx + c.rx * 0.3} ${cy})`}, ig);
    if (c.contours) [1.0, 0.85, 0.7, 0.52, 0.38].forEach(s => mk('ellipse', {cx: cx, cy: cy, rx: c.rx * s, ry: c.ry * s, fill: 'none', stroke: '#e8d8f0', 'stroke-opacity': 0.7, 'stroke-width': 1}, ig));
    mk('circle', {cx: cx - 6, cy: cy, r: 4, fill: 'none', stroke: '#c8c0e8', 'stroke-width': 1}, ig);
    mk('circle', {cx: cx + 6, cy: cy, r: 4, fill: 'none', stroke: '#c8c0e8', 'stroke-width': 1}, ig);
  } else if (c.kind === 'resid') {
    [0.45, 0.75, 1.05].forEach(s => mk('ellipse', {cx: cx, cy: cy, rx: c.rx * s, ry: c.ry * s, fill: 'none', stroke: '#d02828', 'stroke-width': 1.4, 'stroke-dasharray': '6 4'}, ig));
    mk('ellipse', {cx: cx - 10, cy: cy + 12, rx: 11, ry: 8, fill: '#5a1a6a', stroke: '#fff', 'stroke-width': 1}, ig);
    mk('ellipse', {cx: cx + 14, cy: cy - 14, rx: 7, ry: 9, fill: '#4a1468', stroke: '#fff', 'stroke-width': 1}, ig);
    mk('ellipse', {cx: cx - 20, cy: cy - 8, rx: 8, ry: 9, fill: 'none', stroke: '#ddd', 'stroke-width': 1, 'stroke-dasharray': '2 2'}, ig);
  } else if (c.kind === 'hco') {
    mk('ellipse', {cx: cx, cy: cy, rx: c.rx * 1.4, ry: c.ry * 1.4, fill: 'url(#glowPurple)'}, ig);
    mk('ellipse', {cx: cx, cy: cy, rx: 9, ry: 20, fill: 'url(#hcoCore)', transform: `rotate(-25 ${cx} ${cy})`}, ig);
    [0.55, 1.0].forEach(s => mk('ellipse', {cx: cx, cy: cy, rx: c.rx * s, ry: c.ry * s, fill: 'none', stroke: '#c8283a', 'stroke-width': 1.4, 'stroke-dasharray': '6 4'}, ig));
  } else if (c.kind === 'co') {
    mk('ellipse', {cx: cx, cy: cy, rx: c.rx * 1.5, ry: c.ry * 1.5, fill: 'url(#glowCO)'}, ig);
    [0.55, 1.0].forEach(s => mk('ellipse', {cx: cx, cy: cy, rx: c.rx * s, ry: c.ry * s, fill: 'none', stroke: '#c8283a', 'stroke-width': 1.4, 'stroke-dasharray': '6 4'}, ig));
  }
  const beam = mk('ellipse', {cx: c.x + c.w * 0.16, cy: c.y + c.h * 0.86, rx: 5, ry: 8, fill: 'none', stroke: '#fff', 'stroke-width': 1.3}, ig);
  
  
  mk('rect', {x: c.x, y: c.y, width: c.w, height: c.h, fill: 'none', stroke: '#888', 'stroke-width': 3}, g);
  if (c.title) label(g, c.x + c.w * 0.5, c.y + 20, c.title, 15, 'middle', 0, 'image-title').setAttribute('fill', '#fff');
  if (c.yticks) c.yticks.forEach((v, i) => label(g, c.x - 6, c.y + c.h * (0.17 + 0.33 * i), String(v.toFixed ? (c.fixed ? v.toFixed(1) : v) : v).replace('-', '−'), 13, 'end', 0, 'y-tick-label'));
  if (c.xticks) c.xticks.forEach((v, i) => label(g, c.x + c.w * (c.xstart + c.xstep * i), c.y + c.h + 14, String(c.fixed ? v.toFixed(1) : v).replace('-', '−'), 13, 'middle', 0, 'x-tick-label'));
  if (c.ytitle) label(g, c.x - 36, c.y + c.h / 2, c.ytitle, 15, 'middle', -90, 'y-axis-title');
  if (c.xtitle) label(g, c.x + c.w / 2, c.y + c.h + 34, c.xtitle, 15, 'middle', 0, 'x-axis-title');
}

// ---------- FIGURE 1 ----------
diskImage({name: 'fig1a-robust0-image', kind: 'disk', contours: true, x: 2071, y: 109, w: 207, h: 208, rx: 62, ry: 36, title: 'a)      Robust=0', yticks: fig1aAxisTicks, xticks: fig1aAxisTicks, xstart: 0.17, xstep: 0.33, ytitle: 'Δδ [″]'});
colorbar(2281, 109, 10, 208, fig1aColorTicks, 5.6, 'Iν [mJy bm⁻¹]', 'fig1a-colorbar');
diskImage({name: 'fig1c-superuniform-image', kind: 'disk', contours: true, x: 2071, y: 351, w: 207, h: 209, rx: 92, ry: 52, title: 'c)   Super-uniform', yticks: fig1cAxisTicks, xticks: fig1cAxisTicks, xstart: 0.2, xstep: 0.3, fixed: true, ytitle: 'Δδ [″]', xtitle: 'Δα [″]'});
colorbar(2281, 351, 10, 209, fig1cColorTicks, 4.7, 'Iν [mJy bm⁻¹]', 'fig1c-colorbar');
linePlot({name: 'fig1b-radial-profile', x: 2407, y: 109, w: 207, h: 208, xmin: 0, xmax: 181, ymin: -0.53, ymax: 6, xs: fig1bRadius, ys: fig1bIntensity, err: fig1bError, rings: ringRadii, beam: true, xticks: radiusTicks, yticks: fig1bYTicks, ytitle: 'Iν [mJy bm⁻¹]', panel: 'b)'});
linePlot({name: 'fig1d-radial-profile', x: 2407, y: 351, w: 207, h: 209, xmin: 0, xmax: 181, ymin: -0.53, ymax: 4.5, xs: fig1dRadius, ys: fig1dIntensity, err: fig1dError, rings: ringRadii, beam: true, xticks: radiusTicks, yticks: fig1dYTicks, ytitle: 'Iν [mJy bm⁻¹]', xtitle: 'Radius [AU]', panel: 'd)'});

// ---------- FIGURE 2 ----------
linePlot({name: 'fig2-radial-profile-model', x: 2993, y: 104, w: 218, h: 219, xmin: 0, xmax: 180.6, ymin: -0.5, ymax: 6, xs: fig2Radius, ys: fig2Intensity, err: fig2Error, model: fig2Model, rings: ringRadii, beam: true, xticks: radiusTicks, yticks: fig1bYTicks, ytitle: 'Iν [mJy bm⁻¹]', xtitle: 'Radius [AU]'});
linePlot({name: 'fig2-band6-visibilities', x: 3287, y: 104, w: 249, h: 109, xmin: 0, xmax: 1004, ymin: -24, ymax: 106, xs: visBaseline, ys: visBand6Real, err: visBand6Err, model: visBand6Model, xticks: visXTicks, xlabels: false, yticks: visYTicks, inlabel: 'Band 6'});
linePlot({name: 'fig2-band7-visibilities', x: 3287, y: 213, w: 249, h: 110, xmin: 0, xmax: 1004, ymin: -24, ymax: 106, xs: visBaseline, ys: visBand7Real, err: visBand7Err, model: visBand7Model, xticks: visXTicks, yticks: visYTicks, inlabel: 'Band 7', xtitle: 'Deprojected Baseline [kλ]'});
label(svg, 3250, 213, 'Real Visibilities [mJy]', 15, 'middle', -90, 'visibilities-y-axis-title');

// ---------- FIGURE 3 ----------
diskImage({name: 'fig3-observations-image', kind: 'disk', contours: true, x: 3836, y: 97, w: 222, h: 166, rx: 86, ry: 50, title: 'Observations', yticks: fig3AxisTicks, fixed: true, xticks: fig3XTicks, xstart: 0.1, xstep: 0.2, ytitle: 'Δδ [″]', xtitle: 'Δα [″]'});
diskImage({name: 'fig3-model-image', kind: 'disk', contours: true, x: 4058, y: 97, w: 222, h: 166, rx: 86, ry: 50, title: 'Sim. Obs. Model'});
diskImage({name: 'fig3-residuals-image', kind: 'resid', x: 4280, y: 97, w: 222, h: 166, rx: 78, ry: 48, title: 'Residuals'});
colorbar(4510, 97, 11, 166, fig3ColorTicks, 5.6, 'Iν [mJy bm⁻¹]', 'fig3-colorbar');

// ---------- FIGURE 4 ----------
diskImage({name: 'fig4a-hco-moment0', kind: 'hco', x: 3913, y: 382, w: 207, h: 208, rx: 66, ry: 48, title: 'a)   HCO⁺ J=3-2', yticks: fig1aAxisTicks, ytitle: 'Δδ [″]'});
colorbar(4124, 382, 9, 208, hcoColorTicks, 180, 'I [mJy bm⁻¹ km s⁻¹]', 'fig4a-colorbar');
diskImage({name: 'fig4c-13co-moment0', kind: 'co', x: 3913, y: 625, w: 207, h: 207, rx: 66, ry: 48, title: 'c)   ¹³CO J=3-2', yticks: fig1aAxisTicks, xticks: fig1aAxisTicks, xstart: 0.17, xstep: 0.33, ytitle: 'Δδ [″]', xtitle: 'Δα [″]'});
colorbar(4124, 625, 9, 207, hcoColorTicks, 180, 'I [mJy bm⁻¹ km s⁻¹]', 'fig4c-colorbar');
linePlot({name: 'fig4b-hco-radial-profile', x: 4261, y: 382, w: 207, h: 208, xmin: 0, xmax: 221, ymin: 0, ymax: 200, xs: hcoRadius, ys: hcoIntensity, err: hcoError, rings: ringRadii, ringColor: '#e05050', beam: true, xticks: wideRadiusTicks, yticks: hcoYTicks, ytitle: 'I [mJy bm⁻¹ km s⁻¹]', panel: 'b)'});
linePlot({name: 'fig4d-13co-radial-profile', x: 4261, y: 625, w: 207, h: 207, xmin: 0, xmax: 221, ymin: 0, ymax: 250, xs: coRadius, ys: coIntensity, err: coError, rings: ringRadii, ringColor: '#e05050', beam: true, xticks: wideRadiusTicks, yticks: coYTicks, ytitle: 'I [mJy bm⁻¹ km s⁻¹]', xtitle: 'Radius [AU]', panel: 'd)'});
</script>
</body></html>
